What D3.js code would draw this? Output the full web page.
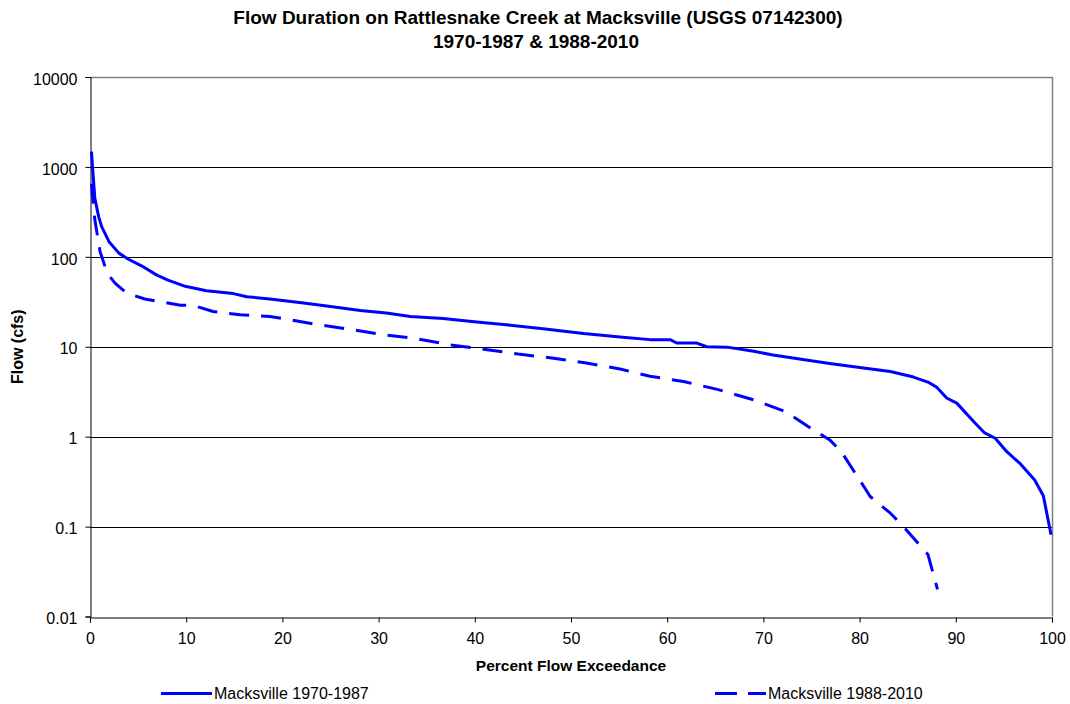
<!DOCTYPE html>
<html>
<head>
<meta charset="UTF-8">
<title>Flow Duration</title>
<style type="text/css">
body { margin: 0; background: #fff; }
text { font-family: Arial, "Liberation Sans", sans-serif; fill: #000; }
.series { fill: none; stroke: #0000ff; stroke-width: 3px; stroke-linejoin: round; }
</style>
<script src="https://d3js.org/d3.v7.min.js"></script>
</head>
<body>
<script type="text/javascript">
// percent exceedance / flow, 1970-1987
var pct1970 = [0.15, 0.5, 0.9, 1.2, 2, 3, 4, 5.4, 6.9, 8.1, 9.9, 12.1, 14.9, 16.3, 18.7, 22.2, 25, 28.1, 30.8, 33.3,
    36.7, 40.2, 43, 47.1, 51.3, 55.1, 58.2, 60.3, 61, 63.1, 64.1, 66.2, 69, 71, 74.1, 76.9, 80.4, 83.2, 85.6, 87.1,
    88, 89.05, 90.1, 92, 93, 94.1, 95.3, 96.7, 98.2, 99.1, 99.9];
var flow1970 = [1480, 450, 280, 218, 146, 110, 94, 79, 63, 55, 47, 42, 39, 36, 34, 30.6, 28, 25.3, 23.7, 21.7,
    20.6, 18.8, 17.7, 15.9, 14, 12.8, 12, 12, 11, 11, 10, 9.9, 8.9, 8.1, 7.2, 6.5, 5.8, 5.3, 4.6, 4.05,
    3.56, 2.69, 2.36, 1.42, 1.1, 0.96, 0.68, 0.5, 0.33, 0.22, 0.081];

// percent exceedance / flow, 1988-2010
var pct1988 = [0.15, 0.5, 1.04, 1.56, 2.08, 2.6, 3.8, 5.7, 9.4, 10.7, 12.8, 15.6, 18.7, 23.2, 26.9, 30.5, 33.6,
    37.4, 40.9, 44.5, 48, 51.6, 55.1, 58.2, 61.7, 65.1, 69, 72.3, 75.2, 76.9, 78.1, 80, 81.1, 83.2, 84.7, 87.1, 88.1];
var flow1988 = [650, 260, 115, 78, 60, 51, 39.5, 34, 29, 28.8, 24.7, 22.7, 21.7, 18, 15.7, 13.6, 12.5,
    10.5, 9.4, 8.3, 7.5, 6.6, 5.65, 4.7, 4.1, 3.38, 2.57, 1.9, 1.19, 0.92, 0.68, 0.33, 0.216, 0.141, 0.096, 0.049, 0.02];

var yTicks = [10000, 1000, 100, 10, 1, 0.1, 0.01];
var yTickLabels = ["10000", "1000", "100", "10", "1", "0.1", "0.01"];
var xTicks = [0, 10, 20, 30, 40, 50, 60, 70, 80, 90, 100];

var W = 1070, H = 704;
var plotL = 90, plotR = 1052, plotT = 77, plotB = 616.5;

var svg = d3.select("body").append("svg")
    .attr("width", W).attr("height", H);

var x = d3.scaleLinear().domain([0, 100]).range([plotL, plotR]);
var y = d3.scaleLog().domain([0.01, 10000]).range([plotB, plotT]);

// gridlines
svg.append("g").selectAll("line")
    .data(yTicks.slice(1, -1))
    .enter().append("line")
    .attr("x1", plotL).attr("x2", plotR)
    .attr("y1", function(d) { return Math.round(y(d)) + 0.5; })
    .attr("y2", function(d) { return Math.round(y(d)) + 0.5; })
    .attr("stroke", "#000").attr("stroke-width", 1);

// plot border top / right
svg.append("path")
    .attr("d", "M" + plotL + "," + (Math.round(plotT) + 0.5) + "H" + (plotR + 0.5) + "V" + plotB)
    .attr("fill", "none").attr("stroke", "#808080").attr("stroke-width", 1.5);

// axes
var yAxis = d3.axisLeft(y).tickValues(yTicks)
    .tickFormat(function(d, i) { return yTickLabels[i]; })
    .tickSize(5).tickPadding(8);
var xAxis = d3.axisBottom(x).tickValues(xTicks).tickSize(5).tickPadding(10);

var gy = svg.append("g").attr("transform", "translate(" + (plotL + 0.5) + ",0)").call(yAxis);
var gx = svg.append("g").attr("transform", "translate(0," + (Math.round(plotB) + 0.5) + ")").call(xAxis);
[gx, gy].forEach(function(g) {
    g.select(".domain").attr("stroke", "#000");
    g.selectAll(".tick line").attr("stroke", "#000");
    g.selectAll("text").style("font-family", "Arial, 'Liberation Sans', sans-serif")
        .style("font-size", "16px").attr("fill", "#000");
});
gy.selectAll("text").attr("dy", "0.45em");

// series
var line = d3.line()
    .x(function(d) { return x(d[0]); })
    .y(function(d) { return y(d[1]); });

svg.append("path").attr("class", "series")
    .attr("d", line(d3.zip(pct1970, flow1970)));
svg.append("path").attr("class", "series")
    .attr("stroke-dasharray", "20,12")
    .attr("d", line(d3.zip(pct1988, flow1988)));

// titles
svg.append("text").attr("x", 538).attr("y", 24)
    .attr("text-anchor", "middle").style("font-size", "19px").style("font-weight", "bold")
    .text("Flow Duration on Rattlesnake Creek at Macksville (USGS 07142300)");
svg.append("text").attr("x", 536).attr("y", 48)
    .attr("text-anchor", "middle").style("font-size", "19px").style("font-weight", "bold")
    .text("1970-1987 & 1988-2010");

svg.append("text").attr("x", (plotL + plotR) / 2).attr("y", 671)
    .attr("text-anchor", "middle").style("font-size", "15.5px").style("font-weight", "bold")
    .text("Percent Flow Exceedance");

svg.append("text")
    .attr("transform", "translate(23," + ((plotT + plotB) / 2) + ") rotate(-90)")
    .attr("text-anchor", "middle").style("font-size", "16px").style("font-weight", "bold")
    .text("Flow (cfs)");

// legend
var lg = svg.append("g");
lg.append("line").attr("x1", 161).attr("x2", 212).attr("y1", 693.5).attr("y2", 693.5)
    .attr("stroke", "#0000ff").attr("stroke-width", 3);
lg.append("text").attr("x", 214).attr("y", 699).style("font-size", "16px").text("Macksville 1970-1987");
lg.append("line").attr("x1", 715).attr("x2", 766).attr("y1", 693.5).attr("y2", 693.5)
    .attr("stroke", "#0000ff").attr("stroke-width", 3).attr("stroke-dasharray", "22,11");
lg.append("text").attr("x", 768).attr("y", 699).style("font-size", "16px").text("Macksville 1988-2010");
</script>
</body>
</html>
